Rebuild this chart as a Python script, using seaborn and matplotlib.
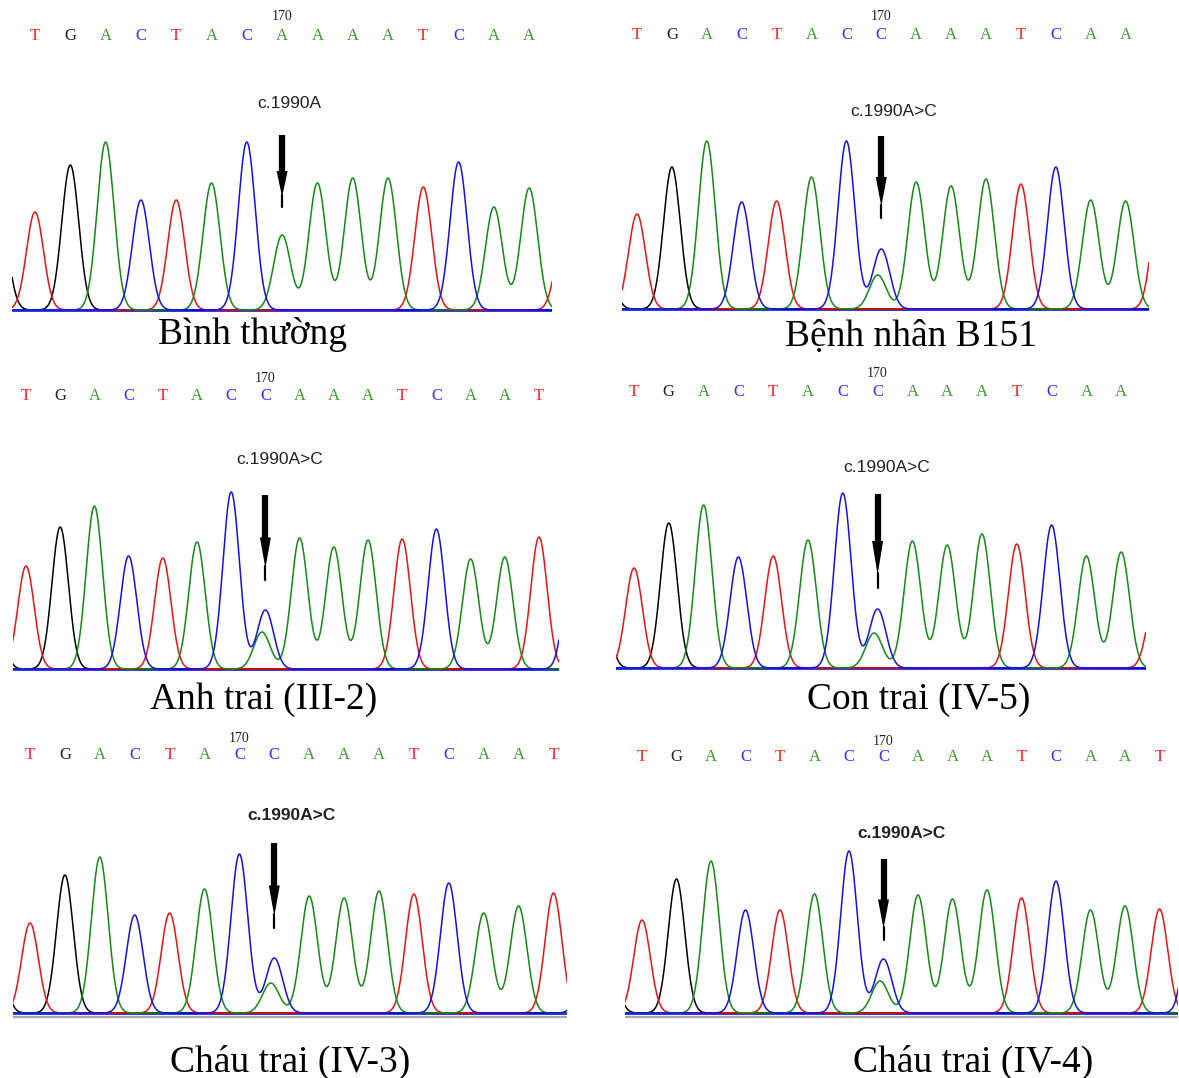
import numpy as np
import pandas as pd
import seaborn as sns
import matplotlib.pyplot as plt

# --- data ---
captions = ["Bình thường", "Bệnh nhân B151", "Anh trai (III-2)",
            "Con trai (IV-5)", "Cháu trai (IV-3)", "Cháu trai (IV-4)"]
mut_labels = ["c.1990A", "c.1990A>C", "c.1990A>C",
              "c.1990A>C", "c.1990A>C", "c.1990A>C"]
label_bold = [False, False, False, False, True, True]

called = ["TGACTACAAAATCAA", "TGACTACCAAATCAA", "TGACTACCAAATCAAT",
          "TGACTACCAAATCAA", "TGACTACCAAATCAAT", "TGACTACCAAATCAAT"]
heights_1 = [98, 145, 168, 110, 110, 127, 168, 75, 127, 132, 132, 123, 148, 103, 122]
heights_2 = [95, 142, 168, 107, 108, 132, 168, 60, 127, 123, 130, 125, 142, 109, 108]
heights_3 = [103, 142, 163, 113, 111, 127, 177, 59, 131, 122, 129, 130, 140, 110, 112, 132]
heights_4 = [100, 145, 163, 111, 112, 128, 175, 59, 127, 123, 134, 124, 143, 112, 116]
heights_5 = [90, 138, 156, 98, 100, 124, 159, 55, 117, 115, 122, 119, 130, 100, 107, 120]
heights_6 = [93, 134, 152, 103, 103, 119, 162, 54, 118, 114, 123, 115, 132, 103, 107, 104]
heights = [heights_1, heights_2, heights_3, heights_4, heights_5, heights_6]
minor_a = [0, 34, 37, 35, 30, 32]          # residual A signal at the mutated position
lead_base = ["G", "G", "G", "G", "G", "G"]   # partly visible peaks at the edges
lead_h = [95, 100, 140, 96, 80, 70]
trail_base = ["T", "T", "C", "T", "C", "C"]
trail_h = [82, 120, 134, 77, 70, 150]
mut_idx = 7
pos_label = "170"
pos_label_idx = [7, 7, 7, 7, 6, 7]

# --- layout (pixels) ---
W, H = 1179, 1078
x0 = [35, 637, 26, 634, 30, 642]
step = [35.3, 34.9, 34.2, 34.8, 34.9, 34.5]
lo = [-0.65, -0.43, -0.39, -0.52, -0.5, -0.49]
hi = [14.65, 14.67, 15.58, 14.7, 15.4, 15.55]
base_y = [310, 309, 669, 668, 1013, 1013]
letters_y = [36, 35, 396, 392, 755, 757]
num_y = [17, 16, 378, 373, 738, 741]
annot_xy = [(289, 103), (894, 111), (280, 459), (887, 468), (291, 815), (902, 833)]
arrow_y = [(135, 207), (136, 218), (495, 580), (494, 588), (843, 928), (859, 940)]
caption_xy = [(253, 335), (911, 337), (264, 700), (919, 700), (290, 1062), (973, 1062)]
grey_rule = [False, False, False, False, True, True]

trace_colors = {"G": "black", "T": "#f01010", "A": "#138a13", "C": "#1010f0"}
letter_colors = {"G": "#222222", "T": "#ff2020", "A": "#3c9a2a", "C": "#3030ff"}
sigma = 0.24

sns.set_style("white")
fig = plt.figure(figsize=(W / 100, H / 100), dpi=100)
fig.patch.set_facecolor("white")

for p in range(6):
    left = x0[p] + step[p] * lo[p]
    right = x0[p] + step[p] * hi[p]
    top = base_y[p] - 300
    bottom = base_y[p] + 8
    ax = fig.add_axes([left / W, 1 - bottom / H, (right - left) / W, (bottom - top) / H])
    ax.set_xlim(lo[p], hi[p])
    ax.set_ylim(-8, 300)
    ax.axis("off")

    n = len(called[p])
    bases = lead_base[p] + called[p] + trail_base[p]
    hts = [lead_h[p]] + heights[p] + [trail_h[p]]
    peaks = list(zip(range(-1, n + 1), bases, hts))
    if minor_a[p]:
        peaks.append((mut_idx - 0.1, "A", minor_a[p]))

    x = np.linspace(lo[p], hi[p], 900)
    frames = []
    for b in "GTAC":
        y = np.zeros_like(x)
        for c, bb, h in peaks:
            if bb == b:
                y += h * np.exp(-(x - c) ** 2 / (2 * sigma ** 2))
        frames.append(pd.DataFrame({"pos": x, "signal": y, "base": b}))
    df = pd.concat(frames, ignore_index=True)

    if grey_rule[p]:
        ax.axhline(-4, color="#a8a8a8", lw=1.6)
    ax.axhline(0, color="#2020ff", lw=2.0)
    sns.lineplot(data=df, x="pos", y="signal", hue="base", hue_order=["G", "T", "A", "C"],
                 palette=trace_colors, estimator=None, sort=False, legend=False,
                 lw=1.1, ax=ax)
    ax.set_xlabel("")
    ax.set_ylabel("")

    for i, b in enumerate(called[p]):
        ax.text(i, base_y[p] - letters_y[p], b, color=letter_colors[b], ha="center",
                va="center", fontsize=12, family="Liberation Serif", clip_on=False)
    ax.text(pos_label_idx[p], base_y[p] - num_y[p], pos_label, ha="center", va="center",
            fontsize=10, family="Liberation Serif", color="#222222")

    # arrow: thick shaft, narrow head, thin tip
    a_top, a_tip = arrow_y[p]
    L = a_tip - a_top
    y_shaft = base_y[p] - a_top
    y_head = base_y[p] - (a_top + 0.50 * L)
    y_point = base_y[p] - (a_top + 0.86 * L)
    y_tip = base_y[p] - a_tip
    hw = 5.5 / step[p]
    ax.plot([mut_idx, mut_idx], [y_shaft, y_head], color="black", lw=4.5,
            solid_capstyle="butt")
    ax.fill([mut_idx - hw, mut_idx + hw, mut_idx], [y_head, y_head, y_point],
            color="black", lw=0)
    ax.plot([mut_idx, mut_idx], [y_point + 2, y_tip], color="black", lw=1.6)

    lx, ly = annot_xy[p]
    fig.text(lx / W, 1 - ly / H, mut_labels[p], ha="center", va="center",
             fontsize=12.5, family="Liberation Sans",
             fontweight="bold" if label_bold[p] else "normal", color="#222222")

    cx, cy = caption_xy[p]
    fig.text(cx / W, 1 - cy / H, captions[p], ha="center", va="center",
             fontsize=27, family="Liberation Serif", color="black")

fig.savefig("out.png", dpi=100, facecolor="white")
